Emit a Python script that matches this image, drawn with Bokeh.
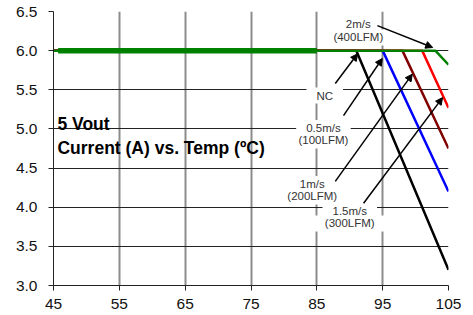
from bokeh.plotting import figure
from bokeh.models import Label, Arrow, NormalHead, Range1d, FixedTicker, NumeralTickFormatter
from bokeh.embed import file_html
from bokeh.resources import INLINE

# ---- data ----
x_ticks = [45, 55, 65, 75, 85, 95, 105]
y_ticks = [3.0, 3.5, 4.0, 4.5, 5.0, 5.5, 6.0, 6.5]

nc_temp = [45, 91, 105]
nc_curr = [6.0, 6.0, 3.2]
ms1_temp = [45, 95, 105]          # 0.5 m/s (100LFM)
ms1_curr = [6.0, 6.0, 4.2]
ms2_temp = [45, 98, 105]          # 1 m/s (200LFM)
ms2_curr = [6.0, 6.0, 4.75]
ms3_temp = [45, 101, 105]         # 1.5 m/s (300LFM)
ms3_curr = [6.0, 6.0, 5.27]
ms4_temp = [45, 103, 105]         # 2 m/s (400LFM)
ms4_curr = [6.0, 6.0, 5.82]
flat_temp = [45.7, 85]
flat_curr = [6.0, 6.0]

# annotation labels (one per text line): text, x, y
ann_text = ["2m/s", "(400LFM)", "NC", "0.5m/s", "(100LFM)", "1m/s", "(200LFM)", "1.5m/s", "(300LFM)"]
ann_x = [91.3, 91.3, 86.2, 86.0, 86.0, 84.3, 84.3, 90.0, 90.0]
ann_y = [6.334, 6.168, 5.427, 5.012, 4.853, 4.297, 4.137, 3.946, 3.792]
# arrows: start x, start y, end x, end y
arr_x0 = [94.2, 87.8, 89.05, 87.8, 92.1]
arr_y0 = [6.32, 5.58, 5.17, 4.33, 4.05]
arr_x1 = [102.6, 91.2, 94.95, 99.5, 104.1]
arr_y1 = [6.04, 5.96, 5.90, 5.70, 5.40]

FONT = "Liberation Sans"

p = figure(width=465, height=313, output_backend="svg", toolbar_location=None,
           x_range=Range1d(45, 105), y_range=Range1d(3.0, 6.5),
           min_border_left=53, min_border_right=17, min_border_top=11, min_border_bottom=28)
p.outline_line_color = None
p.background_fill_color = "white"
p.border_fill_color = "white"

p.xgrid.ticker = FixedTicker(ticks=x_ticks)
p.ygrid.ticker = FixedTicker(ticks=y_ticks)
p.xgrid.grid_line_color = "#8c8c8c"
p.xgrid.grid_line_width = 2
p.ygrid.grid_line_color = "#222222"
p.ygrid.grid_line_width = 1

for ax in (p.xaxis, p.yaxis):
    ax.axis_line_color = "#222222"
    ax.major_tick_line_color = "#222222"
    ax.major_tick_in = 0
    ax.major_tick_out = 5
    ax.minor_tick_line_color = None
    ax.major_label_text_font = FONT
    ax.major_label_text_font_size = "15.5px"
    ax.major_label_text_color = "#111111"
p.xaxis.ticker = FixedTicker(ticks=x_ticks)
p.yaxis.ticker = FixedTicker(ticks=y_ticks)
p.yaxis.formatter = NumeralTickFormatter(format="0.0")
p.xaxis.major_label_standoff = 8
p.yaxis.major_label_standoff = 11

p.line(nc_temp, nc_curr, line_color="black", line_width=2.5)
p.line(ms1_temp, ms1_curr, line_color="#0000ff", line_width=2.5)
p.line(ms2_temp, ms2_curr, line_color="#800000", line_width=2.5)
p.line(ms3_temp, ms3_curr, line_color="#ff0000", line_width=2.5)
p.line(ms4_temp, ms4_curr, line_color="#008000", line_width=2.5)
p.line(flat_temp, flat_curr, line_color="#008000", line_width=5.5)

for t, x, y in zip(ann_text, ann_x, ann_y):
    p.add_layout(Label(x=x, y=y, text=t, text_align="center", text_baseline="middle",
                       text_font=FONT, text_font_size="11.5px", text_color="#333333",
                       background_fill_color="white",
                       padding=dict(left=10, right=10, top=2, bottom=2)))

for x0, y0, x1, y1 in zip(arr_x0, arr_y0, arr_x1, arr_y1):
    p.add_layout(Arrow(x_start=x0, y_start=y0, x_end=x1, y_end=y1,
                       line_color="black", line_width=1.5,
                       end=NormalHead(size=7, fill_color="black", line_color="black")))

p.add_layout(Label(x=45.6, y=5.057, text="5 Vout", text_font=FONT, text_font_size="17.5px",
                   text_font_style="bold", text_color="black", text_baseline="alphabetic"))
p.add_layout(Label(x=45.6, y=4.76, text="Current (A) vs. Temp (ºC)", text_font=FONT,
                   text_font_size="17.5px", text_font_style="bold", text_color="black",
                   text_baseline="alphabetic"))

open("out.html", "w").write(file_html(p, INLINE))
